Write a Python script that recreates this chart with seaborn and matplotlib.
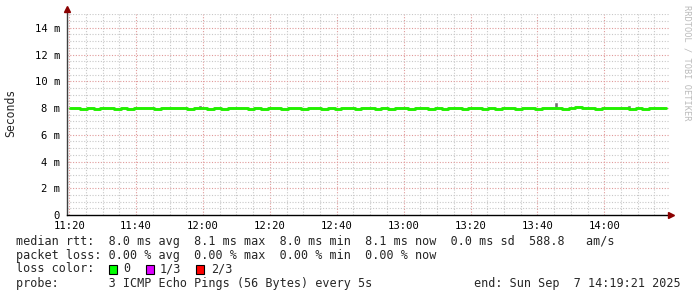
import matplotlib
matplotlib.use("Agg")
import matplotlib.pyplot as plt
import seaborn as sns
import numpy as np
import pandas as pd
from matplotlib.patches import Rectangle

# ---- data ----
start_min = 19.35          # 11:19:21 expressed as minutes after 11:00
step_min = 2.0
median_ms = [8.0, 8.0, 7.95, 8.0, 7.95, 8.0, 8.0, 7.95, 8.0, 7.95,
             8.0, 8.0, 8.0, 7.95, 8.0, 8.0, 8.0, 8.0, 7.95, 8.0,
             8.0, 7.95, 8.0, 7.95, 8.0, 8.0, 8.0, 7.95, 8.0, 7.95,
             8.0, 8.0, 7.95, 8.0, 8.0, 7.95, 8.0, 8.0, 7.95, 8.0,
             7.95, 8.0, 8.0, 7.95, 8.0, 8.0, 7.95, 8.0, 7.95, 8.0,
             8.0, 7.95, 8.0, 8.0, 7.95, 8.0, 7.95, 8.0, 8.0, 7.95,
             8.0, 8.0, 7.95, 8.0, 7.95, 8.0, 8.0, 7.95, 8.0, 8.0,
             7.95, 8.0, 8.0, 8.0, 7.95, 8.0, 8.06, 8.0, 8.0, 7.95,
             8.0, 8.0, 8.0, 8.0, 7.95, 8.0, 7.95, 8.0, 8.0, 8.0]
smoke_times = [59.1, 165.6, 172.0, 187.3]
smoke_lo = [8.0, 8.0, 8.0, 8.0]
smoke_hi = [8.22, 8.45, 8.12, 8.2]

tick_minutes = [20, 40, 60, 80, 100, 120, 140, 160, 180]
tick_labels = ["11:20", "11:40", "12:00", "12:20", "12:40",
               "13:00", "13:20", "13:40", "14:00"]
ytick_vals = [0, 2, 4, 6, 8, 10, 12, 14]
ytick_labels = ["0", "2 m", "4 m", "6 m", "8 m", "10 m", "12 m", "14 m"]

legend_lines = [
    "median rtt:  8.0 ms avg  8.1 ms max  8.0 ms min  8.1 ms now  0.0 ms sd  588.8   am/s",
    "packet loss: 0.00 % avg  0.00 % max  0.00 % min  0.00 % now",
]
loss_colors = ["#00ff00", "#dd00ff", "#ff0000"]
loss_labels = ["0", "1/3", "2/3"]
probe_text = "probe:       3 ICMP Echo Pings (56 Bytes) every 5s"
end_text = "end: Sun Sep  7 14:19:21 2025"

# ---- figure ----
sns.set_style("white")
plt.rcParams['font.family'] = ['DejaVu Sans Mono']
W, H = 697, 297
fig = plt.figure(figsize=(W / 100, H / 100), dpi=100)
fig.patch.set_facecolor("white")

x0, x1, ytop, ybot = 67, 669, 14, 215
ax = fig.add_axes([x0 / W, 1 - ybot / H, (x1 - x0) / W, (ybot - ytop) / H])
ax.set_facecolor("white")

xmin, xmax = start_min, start_min + 180
ymax = 15.03
ax.set_xlim(xmin, xmax)
ax.set_ylim(0, ymax)

# grids
for m in np.arange(20, xmax, 5):
    major = (m % 20 == 0)
    ax.axvline(m, color="#e09a9a" if major else "#c8c8c8", lw=0.8,
               ls=(0, (1, 1.5)), zorder=1)
for v in np.arange(0.5, ymax, 0.5):
    major = (abs(v % 2) < 1e-9)
    ax.axhline(v, color="#e09a9a" if major else "#c8c8c8", lw=0.8,
               ls=(0, (1, 1.5)), zorder=1)

# smoke
ax.bar(smoke_times, np.array(smoke_hi) - np.array(smoke_lo), bottom=smoke_lo,
       width=1.3, color="#707070", zorder=2, align="center")

# median line
times = [start_min + step_min * i + step_min / 2 for i in range(len(median_ms))]
df = pd.DataFrame({"t": times, "ms": median_ms})
sns.lineplot(data=df, x="t", y="ms", ax=ax, color="#22f000", lw=2.1,
             drawstyle="steps-mid", zorder=3)

ax.set_xlabel("")
ax.set_ylabel("")
ax.set_xticks(tick_minutes)
ax.set_xticklabels(tick_labels, fontsize=7.6)
ax.set_yticks(ytick_vals)
ax.set_yticklabels(ytick_labels, fontsize=7.6)
ax.tick_params(axis="both", length=2, width=0.8, colors="#000000")
ax.tick_params(axis="x", pad=2)
ax.tick_params(axis="y", pad=3)

for s in ["top", "right"]:
    ax.spines[s].set_visible(False)
ax.spines["left"].set_color("#404040")
ax.spines["bottom"].set_color("#000000")
ax.spines["left"].set_linewidth(1)
ax.spines["bottom"].set_linewidth(1)
ax.spines["left"].set_bounds(0, ymax + 0.3)
ax.spines["bottom"].set_bounds(xmin, xmax + 0.5)

# arrows
ax.plot([xmin], [ymax + 0.35], marker="^", color="#8b0000", ms=4, clip_on=False, zorder=5)
ax.plot([xmax + 0.6], [0], marker=">", color="#8b0000", ms=4, clip_on=False, zorder=5)

fig.text(11 / W, 1 - 113 / H, "Seconds", rotation=90, ha="center", va="center",
         fontsize=8.3)
fig.text(687 / W, 1 - 5 / H, "RRDTOOL / TOBI OETIKER", rotation=270,
         ha="center", va="top", fontsize=6.2, color="#bbbbbb")

fs = 8.5
ys = [241, 255, 269, 283]
for i, line in enumerate(legend_lines):
    fig.text(16 / W, 1 - ys[i] / H, line, ha="left", va="center", fontsize=fs)
fig.text(16 / W, 1 - ys[2] / H, "loss color:", ha="left", va="center", fontsize=fs)
sq_x = [109, 146, 196]
lab_x = [123, 160, 211]
for c, l, sx, lx in zip(loss_colors, loss_labels, sq_x, lab_x):
    fig.patches.append(Rectangle((sx / W, 1 - (ys[2] + 4.5) / H), 8 / W, 9 / H,
                                 transform=fig.transFigure, facecolor=c,
                                 edgecolor="black", lw=0.8))
    fig.text(lx / W, 1 - ys[2] / H, l, ha="left", va="center", fontsize=fs)
fig.text(16 / W, 1 - ys[3] / H, probe_text, ha="left", va="center", fontsize=fs)
fig.text(681 / W, 1 - ys[3] / H, end_text, ha="right", va="center", fontsize=fs)

fig.savefig("out.png", dpi=100, facecolor="white")
